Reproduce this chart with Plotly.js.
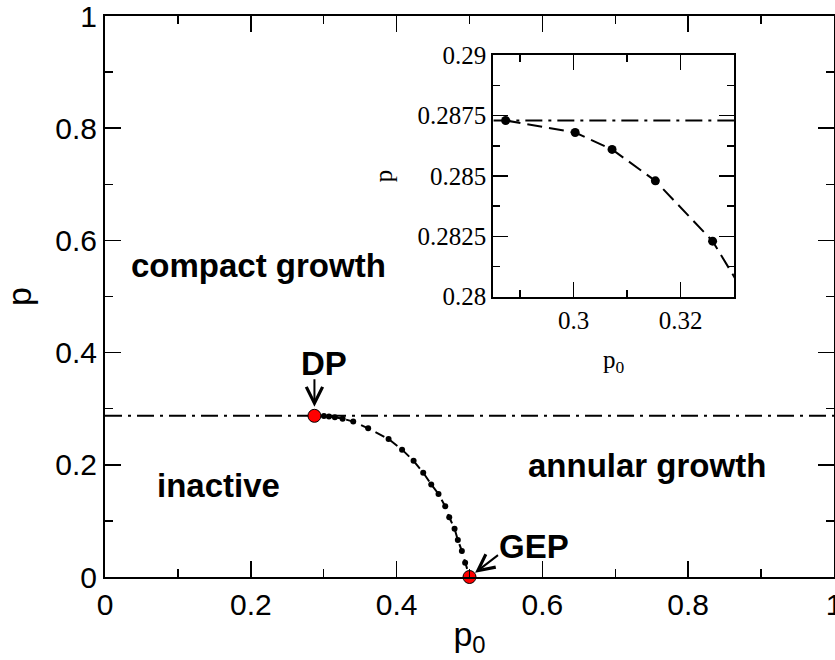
<!DOCTYPE html>
<html>
<head>
<meta charset="utf-8">
<script src="https://cdn.plot.ly/plotly-3.0.1.min.js"></script>
<style>html,body{margin:0;padding:0;background:#fff;}#chart{width:835px;height:660px;}</style>
</head>
<body>
<div id="chart"></div>
<script>
// Phase-boundary data
const curveX = [0.2873, 0.3003, 0.3072, 0.3153, 0.3260, 0.3405, 0.3610, 0.3890, 0.4075, 0.4233, 0.4365, 0.4475, 0.4575, 0.4667, 0.4722, 0.4795, 0.4840, 0.4895, 0.4940, 0.5000];
const curveY = [0.2873, 0.2868, 0.2861, 0.2848, 0.2823, 0.2770, 0.2650, 0.2460, 0.2270, 0.2070, 0.1860, 0.1650, 0.1480, 0.1260, 0.1065, 0.0860, 0.0660, 0.0465, 0.0255, 0.0000];
const specialNames = ["DP", "GEP"];
const specialX = [0.2873, 0.5000];
const specialY = [0.2873, 0.0000];
const criticalP = 0.2873;          // horizontal dash-dot line p = p_c
const mainRange = [0, 1];
const insetXRange = [0.285, 0.33];
const insetYRange = [0.28, 0.29];
const regionLabels = ["compact growth", "inactive", "annular growth"];

const black = "#000";
const traces = [
  { x: mainRange, y: [criticalP, criticalP], mode: "lines", xaxis: "x", yaxis: "y",
    line: { color: black, width: 2, dash: "17px,6px,3px,6px" }, hoverinfo: "skip" },
  { x: curveX, y: curveY, mode: "lines+markers", xaxis: "x", yaxis: "y",
    line: { color: black, width: 2, dash: "10px,6px" },
    marker: { color: black, size: 6 } },
  { x: specialX, y: specialY, text: specialNames, mode: "markers", xaxis: "x", yaxis: "y",
    marker: { color: "#ff0000", size: 13, line: { color: "#000", width: 1 } }, cliponaxis: false },
  { x: insetXRange, y: [criticalP, criticalP], mode: "lines", xaxis: "x2", yaxis: "y2",
    line: { color: black, width: 2, dash: "17px,6px,3px,6px" } },
  { x: curveX, y: curveY, mode: "lines+markers", xaxis: "x2", yaxis: "y2",
    line: { color: black, width: 2, dash: "15px,7px" },
    marker: { color: black, size: 9 }, cliponaxis: true }
];

const sans = "Liberation Sans, Arial, sans-serif";
const serif = "Liberation Serif, Times New Roman, serif";
const mainAxis = {
  range: mainRange, dtick: 0.2, tick0: 0, ticks: "inside", ticklen: 16, tickwidth: 1.5, tickcolor: black,
  minor: { dtick: 0.1, ticks: "inside", ticklen: 8, tickwidth: 1.5, tickcolor: black },
  showline: true, linewidth: 2, linecolor: black, mirror: "ticks",
  showgrid: false, zeroline: false, tickfont: { family: sans, size: 30, color: black },
  ticklabeloverflow: "allow"
};
const insetAxis = {
  ticks: "inside", ticklen: 15, tickwidth: 1.5, tickcolor: black,
  showline: true, linewidth: 2, linecolor: black, mirror: "ticks",
  showgrid: false, zeroline: false, tickfont: { family: serif, size: 25, color: black }
};

const labelFont = { family: sans, size: 33, color: black, weight: "bold" };
const layout = {
  width: 835, height: 660,
  margin: { l: 105, r: 1, t: 16, b: 83 },
  paper_bgcolor: "#fff", plot_bgcolor: "#fff",
  showlegend: false,
  xaxis: Object.assign({}, mainAxis, { domain: [0, 1], anchor: "y",
    title: { text: "p<sub>0</sub>", font: { family: sans, size: 34, color: black }, standoff: 2 } }),
  yaxis: Object.assign({}, mainAxis, { domain: [0, 1], anchor: "x",
    title: { text: "p", font: { family: sans, size: 34, color: black }, standoff: 18 } }),
  xaxis2: Object.assign({}, insetAxis, { domain: [0.5327, 0.8628], anchor: "y2", range: insetXRange,
    dtick: 0.02, tick0: 0,
    minor: { dtick: 0.01, ticks: "inside", ticklen: 7, tickwidth: 1.5, tickcolor: black },
    title: { text: "p<sub>0</sub>", font: { family: serif, size: 25, color: black }, standoff: 18 } }),
  yaxis2: Object.assign({}, insetAxis, { domain: [0.4996, 0.930], anchor: "x2", range: insetYRange,
    dtick: 0.0025, tick0: 0,
    minor: { dtick: 0.00125, ticks: "inside", ticklen: 7, tickwidth: 1.5, tickcolor: black },
    title: { text: "p", font: { family: serif, size: 25, color: black }, standoff: 18 } }),
  annotations: [
    { x: 0.211, y: 0.556, xref: "x", yref: "y", text: "<b>" + regionLabels[0] + "</b>", showarrow: false, font: labelFont },
    { x: 0.155, y: 0.164, xref: "x", yref: "y", text: "<b>" + regionLabels[1] + "</b>", showarrow: false, font: labelFont },
    { x: 0.7435, y: 0.198, xref: "x", yref: "y", text: "<b>" + regionLabels[2] + "</b>", showarrow: false, font: labelFont },
    { x: 0.301, y: 0.380, xref: "x", yref: "y", text: "<b>" + specialNames[0] + "</b>", showarrow: false, font: labelFont },
    { x: 0.5885, y: 0.0544, xref: "x", yref: "y", text: "<b>" + specialNames[1] + "</b>", showarrow: false, font: labelFont },
    { x: specialX[0], y: specialY[0], xref: "x", yref: "y", text: "", showarrow: true,
      ax: 0, ay: -38, arrowhead: 5, arrowsize: 1.6, arrowwidth: 2, arrowcolor: black, standoff: 9 },
    { x: specialX[1], y: specialY[1], xref: "x", yref: "y", text: "", showarrow: true,
      ax: 30, ay: -23, arrowhead: 5, arrowsize: 1.6, arrowwidth: 2, arrowcolor: black, standoff: 7 }
  ]
};

Plotly.newPlot("chart", traces, layout, { staticPlot: true, displayModeBar: false });
</script>
</body>
</html>
